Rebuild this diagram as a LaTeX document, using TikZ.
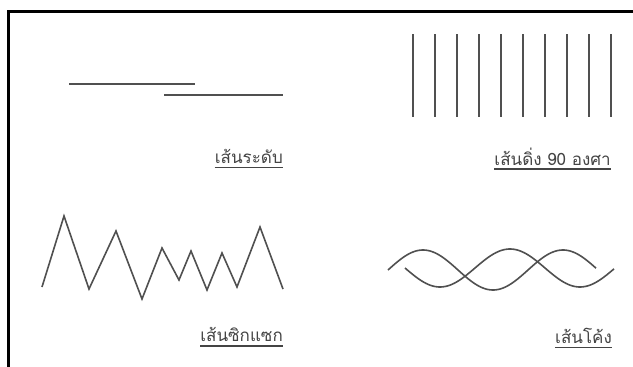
\documentclass[tikz,border=0pt]{standalone}
\usepackage{fontspec}
\newfontfamily\thaifont[Script=Thai]{Loma}
\definecolor{ink}{HTML}{505050}
\definecolor{txt}{HTML}{444444}
\tikzset{
  stroke/.style={draw=ink, line width=1.6pt},
  lbl/.style={anchor=base east, inner sep=0pt, text=txt, font=\thaifont\fontsize{17}{19}\selectfont},
  uline/.style={draw=txt, line width=1.5pt}
}
\begin{document}
\begin{tikzpicture}[x=1pt,y=-1pt]
\useasboundingbox (0,0) rectangle (633,367);
\fill[white] (0,0) rectangle (633,367);
% frame
\draw[line width=3pt, black] (8.5,367) -- (8.5,11.5) -- (633,11.5);
% horizontal lines
\draw[stroke] (69,84) -- (195,84);
\draw[stroke] (164,95) -- (283,95);
\node[lbl] (l1) at (283,163) {เส้นระดับ};
\draw[uline] ([yshift=-4.5pt]l1.base west) -- ([yshift=-4.5pt]l1.base east);
% vertical lines
\foreach \i in {0,...,9}{
  \draw[stroke] ({413+22*\i},34) -- ({413+22*\i},117);
}
\node[lbl] (l2) at (611,165) {เส้นดิ่ง 90 องศา};
\draw[uline] ([yshift=-4pt]l2.base west) -- ([yshift=-4pt]l2.base east);
% zigzag
\draw[stroke, line join=miter] (42,287) -- (64,216) -- (89,289) -- (116,231) -- (142,299) -- (162,248) -- (179,280) -- (191,251) -- (207,290) -- (222,253) -- (237,287) -- (260,227) -- (283,289);
\node[lbl] (l3) at (283,341) {เส้นซิกแซก};
\draw[uline] ([yshift=-5pt]l3.base west) -- ([yshift=-5pt]l3.base east);
% curves
\draw[stroke] plot[domain=388:596, samples=120, smooth] (\x, {270-20*cos((\x-423)*18/7)});
\draw[stroke] plot[domain=405:614, samples=120, smooth] (\x, {268+19*cos((\x-440)*18/7)});
\node[lbl] (l4) at (612,343) {เส้นโค้ง};
\draw[uline] ([yshift=-4.5pt]l4.base west) -- ([yshift=-4.5pt]l4.base east);
\end{tikzpicture}
\end{document}
